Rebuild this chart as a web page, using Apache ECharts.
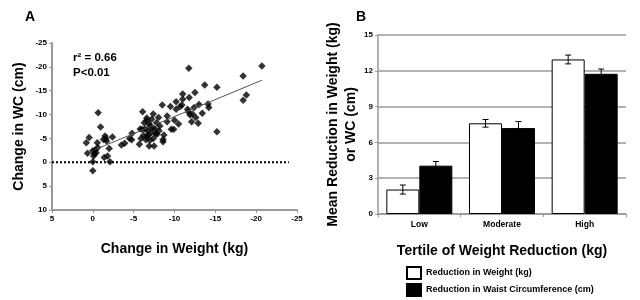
<!DOCTYPE html>
<html>
<head>
<meta charset="utf-8">
<script src="https://cdn.jsdelivr.net/npm/echarts@6/dist/echarts.min.js"></script>
<style>
  html, body { margin: 0; padding: 0; background: #fff; }
  #chart { width: 640px; height: 300px; }
</style>
</head>
<body>
<div id="chart"></div>
<script>
// panel A: change in weight (kg) vs change in WC (cm)
const scatterPoints = [
  [0.8, -4.1], [0.45, -5.2], [0.65, -1.9], [0, -2.4], [-0.1, -1.3], [0, -0.1], [0, 1.8],
  [-0.3, -2.6], [-0.6, -3.1], [-0.55, -4.1], [-0.65, -10.4], [-0.95, -7.4], [-0.4, -2.0],
  [-0.2, -1.8], [-1.5, -5.5], [-1.6, -5.0], [-1.3, -4.8], [-1.7, -4.4], [-1.4, -1.0],
  [-1.8, -1.3], [-2.0, -2.9], [-2.1, -0.1], [-2.4, -5.3],
  [-3.5, -3.6], [-3.9, -4.0], [-4.5, -5.0], [-4.75, -4.7], [-4.8, -6.1], [-5.7, -3.8],
  [-5.9, -5.0], [-6.1, -10.6], [-6.05, -6.9], [-6.3, -8.3], [-6.5, -4.7], [-6.6, -9.3],
  [-6.7, -6.6], [-6.8, -5.7], [-6.9, -3.4], [-7.0, -7.6], [-7.1, -6.2], [-7.2, -9.0],
  [-7.4, -5.0], [-7.4, -10.1], [-7.5, -3.4], [-7.6, -6.9], [-7.8, -8.3], [-7.85, -5.9],
  [-8.05, -9.4], [-8.2, -7.6], [-8.6, -4.8], [-8.6, -4.3], [-8.5, -12.0], [-8.7, -5.7],
  [-6.4, -7.0], [-7.3, -7.2], [-6.9, -8.0], [-7.7, -6.0], [-8.1, -6.6], [-7.0, -4.6],
  [-6.2, -5.6], [-6.6, -8.8], [-5.8, -7.0], [-6.6, -5.4],
  [-9.1, -9.7], [-9.1, -8.5], [-9.5, -11.7], [-9.6, -6.9], [-9.9, -6.9], [-10.0, -8.8],
  [-10.2, -12.7], [-10.2, -11.1], [-10.5, -8.0], [-10.7, -11.7], [-10.9, -12.0],
  [-11.0, -14.3], [-11.0, -13.2], [-11.6, -11.1], [-11.75, -19.7], [-11.8, -13.6],
  [-11.7, -10.6], [-11.9, -9.9], [-12.1, -8.5], [-12.2, -10.1], [-12.4, -11.5],
  [-12.5, -14.6], [-12.6, -9.4], [-12.9, -8.2], [-13.0, -12.1], [-13.4, -10.3],
  [-13.7, -16.2], [-14.1, -12.2], [-14.2, -11.5], [-15.2, -15.7], [-15.2, -6.4],
  [-18.4, -18.1], [-18.4, -13.0], [-18.8, -14.1], [-20.7, -20.2]
];
const fitLine = [[-0.2, -2.6], [-20.7, -17.2]];
const zeroLine = [[5, 0], [-24, 0]];

// panel B: tertiles
const tertiles = ['Low', 'Moderate', 'High'];
const weightMean = [2.05, 7.6, 12.95];
const weightErr = [0.38, 0.32, 0.37];
const wcMean = [4.05, 7.2, 11.75];
const wcErr = [0.35, 0.55, 0.4];

const boldFont = { fontFamily: 'Liberation Sans', fontWeight: 'bold', color: '#000' };
const axisGray = '#999';
const barW = 33;

function errorBars(means, errs, offset) {
  return means.map((m, i) => [i, m - errs[i], m + errs[i], offset]);
}

function renderErr(params, api) {
  const lo = api.coord([api.value(0), api.value(1)]);
  const hi = api.coord([api.value(0), api.value(2)]);
  const x = lo[0] + api.value(3);
  const cap = 3;
  const style = { stroke: '#000', lineWidth: 1 };
  return {
    type: 'group',
    children: [
      { type: 'line', shape: { x1: x, y1: lo[1], x2: x, y2: hi[1] }, style },
      { type: 'line', shape: { x1: x - cap, y1: lo[1], x2: x + cap, y2: lo[1] }, style },
      { type: 'line', shape: { x1: x - cap, y1: hi[1], x2: x + cap, y2: hi[1] }, style }
    ]
  };
}

const chart = echarts.init(document.getElementById('chart'));
chart.setOption({
  animation: false,
  backgroundColor: '#fff',
  textStyle: { fontFamily: 'Liberation Sans' },
  grid: [
    { left: 52, top: 43, width: 245, bottom: 90 },
    { left: 378, top: 35, right: 14, bottom: 86 }
  ],
  xAxis: [
    {
      gridIndex: 0, type: 'value', min: -25, max: 5, interval: 5, inverse: true,
      name: 'Change in Weight (kg)', nameLocation: 'middle', nameGap: 32,
      nameTextStyle: Object.assign({ fontSize: 14 }, boldFont),
      axisLine: { show: true, onZero: false, lineStyle: { color: axisGray, width: 2 } },
      axisTick: { show: true, length: 3, lineStyle: { color: axisGray } },
      axisLabel: Object.assign({ fontSize: 8, margin: 5 }, boldFont),
      splitLine: { show: false }
    },
    {
      gridIndex: 1, type: 'category', data: tertiles,
      name: 'Tertile of Weight Reduction (kg)', nameLocation: 'middle', nameGap: 30,
      nameTextStyle: Object.assign({ fontSize: 14 }, boldFont),
      axisLine: { lineStyle: { color: axisGray, width: 1.5 } },
      axisTick: { show: true, length: 3, lineStyle: { color: axisGray } },
      axisLabel: Object.assign({ fontSize: 8.5, margin: 6 }, boldFont)
    }
  ],
  yAxis: [
    {
      gridIndex: 0, type: 'value', min: -25, max: 10, interval: 5, inverse: true,
      name: 'Change in WC (cm)', nameLocation: 'middle', nameGap: 26, nameRotate: 90,
      nameTextStyle: Object.assign({ fontSize: 14 }, boldFont),
      axisLine: { show: true, onZero: false, lineStyle: { color: axisGray, width: 2 } },
      axisTick: { show: true, length: 3, lineStyle: { color: axisGray } },
      axisLabel: Object.assign({ fontSize: 8, margin: 5 }, boldFont),
      splitLine: { show: false }
    },
    {
      gridIndex: 1, type: 'value', min: 0, max: 15, interval: 3,
      name: 'Mean Reduction in Weight (kg)\nor WC (cm)', nameLocation: 'middle', nameGap: 15, nameRotate: 90,
      nameTextStyle: Object.assign({ fontSize: 14, lineHeight: 18 }, boldFont),
      axisLine: { show: true, lineStyle: { color: axisGray, width: 1.5 } },
      axisTick: { show: true, length: 3, lineStyle: { color: axisGray } },
      axisLabel: Object.assign({ fontSize: 8, margin: 5 }, boldFont),
      splitLine: { show: true, lineStyle: { color: '#999', width: 1.5 } }
    }
  ],
  legend: {
    orient: 'vertical', left: 406, top: 266, padding: 0, itemWidth: 14, itemHeight: 12, itemGap: 3,
    icon: 'rect',
    textStyle: Object.assign({ fontSize: 9 }, boldFont),
    data: ['Reduction in Weight (kg)', 'Reduction in Waist Circumference (cm)']
  },
  graphic: [
    { type: 'text', left: 25, top: 10, style: { text: 'A', fontSize: 14, fill: '#000', fontFamily: 'Liberation Sans', fontWeight: 'bold' } },
    { type: 'text', left: 356, top: 10, style: { text: 'B', fontSize: 14, fill: '#000', fontFamily: 'Liberation Sans', fontWeight: 'bold' } },
    { type: 'text', left: 73, top: 50, style: { text: 'r² = 0.66\nP<0.01', fontSize: 11.5, lineHeight: 15, fill: '#000', fontFamily: 'Liberation Sans', fontWeight: 'bold' } }
  ],
  series: [
    {
      type: 'line', xAxisIndex: 0, yAxisIndex: 0, data: zeroLine, symbol: 'none', silent: true,
      lineStyle: { color: '#000', width: 2, type: [2, 2] }
    },
    {
      type: 'line', xAxisIndex: 0, yAxisIndex: 0, data: fitLine, symbol: 'none', silent: true,
      lineStyle: { color: '#555', width: 1 }
    },
    {
      type: 'scatter', xAxisIndex: 0, yAxisIndex: 0, data: scatterPoints,
      symbol: 'diamond', symbolSize: 7.5, itemStyle: { color: '#000' }
    },
    {
      name: 'Reduction in Weight (kg)', type: 'bar', xAxisIndex: 1, yAxisIndex: 1,
      data: weightMean, barWidth: barW, barGap: '0%',
      itemStyle: { color: '#fff', borderColor: '#000', borderWidth: 1 }
    },
    {
      name: 'Reduction in Waist Circumference (cm)', type: 'bar', xAxisIndex: 1, yAxisIndex: 1,
      data: wcMean, barWidth: barW, barGap: '0%',
      itemStyle: { color: '#000', borderColor: '#000', borderWidth: 1 }
    },
    {
      type: 'custom', xAxisIndex: 1, yAxisIndex: 1, renderItem: renderErr, z: 5,
      data: errorBars(weightMean, weightErr, -barW / 2)
    },
    {
      type: 'custom', xAxisIndex: 1, yAxisIndex: 1, renderItem: renderErr, z: 5,
      data: errorBars(wcMean, wcErr, barW / 2)
    }
  ]
});
</script>
</body>
</html>
